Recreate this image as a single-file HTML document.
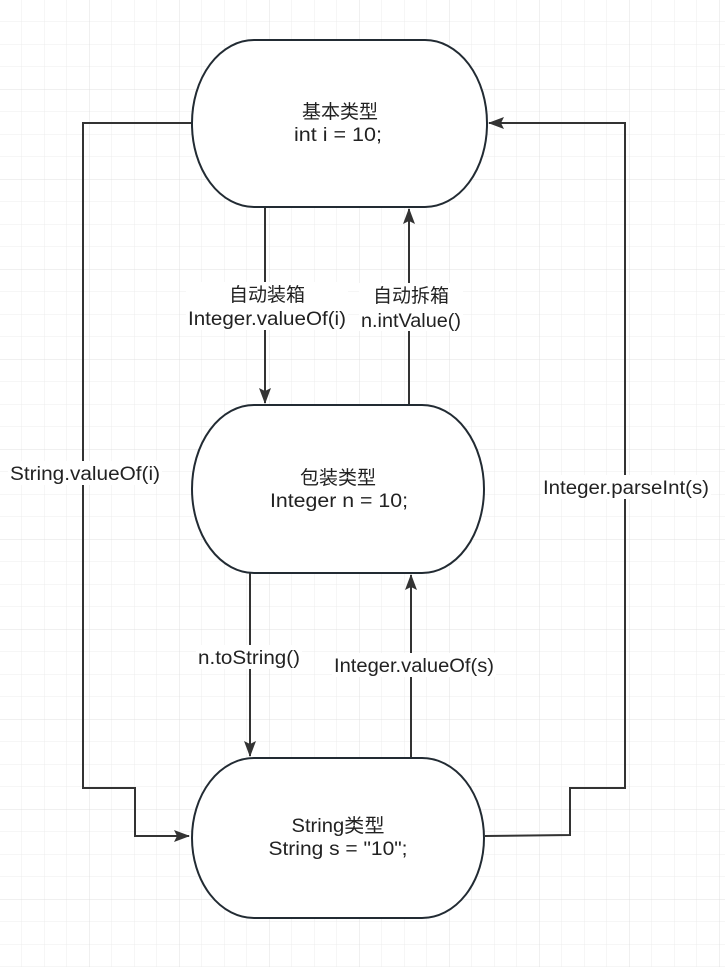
<!DOCTYPE html>
<html><head><meta charset="utf-8"><style>
html,body{margin:0;padding:0;background:#fff;}
svg{display:block;}
text{font-family:"Liberation Sans","Noto Sans CJK SC",sans-serif;font-size:19px;fill:#222;}
</style></head><body>
<svg width="725" height="967" viewBox="0 0 725 967" xmlns="http://www.w3.org/2000/svg">
<defs>
<pattern id="minor" width="22.5" height="22.5" patternUnits="userSpaceOnUse" x="-0.5" y="-0.5">
<path d="M22.5 0V22.5M0 22.5H22.5" stroke="#ececec" stroke-width="1" fill="none"/>
</pattern>
<pattern id="major" width="90" height="90" patternUnits="userSpaceOnUse" x="-0.5" y="-0.5">
<path d="M90 0V90M0 90H90" stroke="#e0e0e0" stroke-width="1" fill="none"/>
</pattern>
<marker id="ar" viewBox="0 0 16 12" refX="15" refY="6" markerWidth="16" markerHeight="12" markerUnits="userSpaceOnUse" orient="auto">
<path d="M0 0L16 6L0 12L3 6Z" fill="#333"/>
</marker>
</defs>
<rect width="725" height="967" fill="url(#minor)"/>
<rect width="725" height="967" fill="url(#major)"/>
<g stroke="#333" stroke-width="2" fill="none">
<path d="M192 123H83V788H135V836H189" marker-end="url(#ar)"/>
<path d="M485 836L570 835V788H625V123H489" marker-end="url(#ar)"/>
<path d="M265 207V403" marker-end="url(#ar)"/>
<path d="M409 405V209" marker-end="url(#ar)"/>
<path d="M250 573V756" marker-end="url(#ar)"/>
<path d="M411 758V575" marker-end="url(#ar)"/>
</g>
<g stroke="#222b33" stroke-width="2" fill="#fff">
<rect x="192" y="40" width="295" height="167" rx="62" ry="83"/>
<rect x="192" y="405" width="292" height="168" rx="62" ry="84"/>
<rect x="192" y="758" width="292" height="160" rx="62" ry="80"/>
</g>
<g text-anchor="middle">
<text x="340" y="118">基本类型</text>
<text x="338" y="141" textLength="88" lengthAdjust="spacingAndGlyphs">int i = 10;</text>
<text x="338" y="484">包装类型</text>
<text x="339" y="507" textLength="138" lengthAdjust="spacingAndGlyphs">Integer n = 10;</text>
<text x="338" y="832" textLength="93" lengthAdjust="spacingAndGlyphs">String类型</text>
<text x="338" y="855" textLength="139" lengthAdjust="spacingAndGlyphs">String s = "10";</text>
</g>
<g fill="#fff">
<rect x="186" y="282" width="162" height="48"/>
<rect x="359" y="283" width="104" height="48"/>
<rect x="8" y="461" width="154" height="24"/>
<rect x="541" y="475" width="170" height="24"/>
<rect x="196" y="645" width="106" height="24"/>
<rect x="332" y="653" width="164" height="24"/>
</g>
<g text-anchor="middle">
<text x="267" y="301">自动装箱</text>
<text x="267" y="325" textLength="158" lengthAdjust="spacingAndGlyphs">Integer.valueOf(i)</text>
<text x="411" y="302">自动拆箱</text>
<text x="411" y="327" textLength="100" lengthAdjust="spacingAndGlyphs">n.intValue()</text>
<text x="85" y="480" textLength="150" lengthAdjust="spacingAndGlyphs">String.valueOf(i)</text>
<text x="626" y="494" textLength="166" lengthAdjust="spacingAndGlyphs">Integer.parseInt(s)</text>
<text x="249" y="664" textLength="102" lengthAdjust="spacingAndGlyphs">n.toString()</text>
<text x="414" y="672" textLength="160" lengthAdjust="spacingAndGlyphs">Integer.valueOf(s)</text>
</g>
</svg>
</body></html>
